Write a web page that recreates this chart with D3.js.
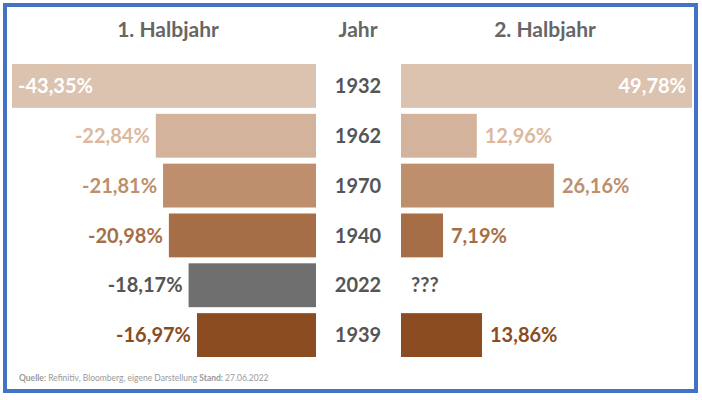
<!DOCTYPE html><html><head><meta charset="utf-8"><script src="https://cdn.jsdelivr.net/npm/d3@7"></script>
<style>body{margin:0;background:#fff}text{font-family:Lato,"Open Sans",sans-serif;font-weight:bold}</style></head><body>
<svg id="c" width="702" height="400"></svg>
<script>
const years=["1932","1962","1970","1940","2022","1939"];
const h1=[-43.35,-22.84,-21.81,-20.98,-18.17,-16.97];
const h2=[49.78,12.96,26.16,7.19,null,13.86];
const colors=["#dcc3b0","#d4b39c","#bd8f6d","#a66e47","#6f6f6f","#8b4c22"];
const labelColors=["#ffffff","#dcb89e","#bd8f6d","#a66e47","#555555","#8b4c22"];
const fmt=v=>(v<0?"-":"")+Math.abs(v).toFixed(2).replace(".",",")+"%";
const svg=d3.select("#c");
svg.append("rect").attr("x",5).attr("y",5).attr("width",691).attr("height",386).attr("fill","#fff").attr("stroke","#4472c4").attr("stroke-width",4);
const y=d3.scaleBand().domain(years).range([64,357]).paddingInner(0.12);
const xl=d3.scaleLinear().domain([-43.35,0]).range([12,316]);
const xr=d3.scaleLinear().domain([0,49.78]).range([401,692]);
const hdr=[["1. Halbjahr",168],["Jahr",358],["2. Halbjahr",545]];
svg.selectAll(".h").data(hdr).join("text").attr("x",d=>d[1]).attr("y",37).attr("text-anchor","middle").attr("font-size",21).attr("fill","#666").text(d=>d[0]);
years.forEach((yr,i)=>{
 const cy=y(yr)+y.bandwidth()/2;
 svg.append("rect").attr("x",xl(h1[i])).attr("y",y(yr)).attr("width",xl(0)-xl(h1[i])).attr("height",y.bandwidth()).attr("fill",colors[i]);
 svg.append("text").attr("x",i==0?xl(h1[i])+6:xl(h1[i])-6).attr("y",cy).attr("dy","0.36em").attr("text-anchor",i==0?"start":"end").attr("font-size",20).attr("fill",labelColors[i]).text(fmt(h1[i]));
 svg.append("text").attr("x",358).attr("y",cy).attr("dy","0.36em").attr("text-anchor","middle").attr("font-size",20).attr("fill","#555").text(yr);
 if(h2[i]==null){svg.append("text").attr("x",xr(0)+10).attr("y",cy).attr("dy","0.36em").attr("font-size",20).attr("fill","#555").text("???");return;}
 svg.append("rect").attr("x",xr(0)).attr("y",y(yr)).attr("width",xr(h2[i])-xr(0)).attr("height",y.bandwidth()).attr("fill",colors[i]);
 svg.append("text").attr("x",i==0?xr(h2[i])-6:xr(h2[i])+8).attr("y",cy).attr("dy","0.36em").attr("text-anchor",i==0?"end":"start").attr("font-size",20).attr("fill",labelColors[i]).text(fmt(h2[i]));
});
const f=svg.append("text").attr("x",19).attr("y",381).attr("font-size",8.5).attr("fill","#999").style("font-weight","normal");
f.append("tspan").style("font-weight","bold").text("Quelle: ");
f.append("tspan").text("Refinitiv, Bloomberg, eigene Darstellung ");
f.append("tspan").style("font-weight","bold").text("Stand: ");
f.append("tspan").text("27.06.2022");
</script></body></html>
